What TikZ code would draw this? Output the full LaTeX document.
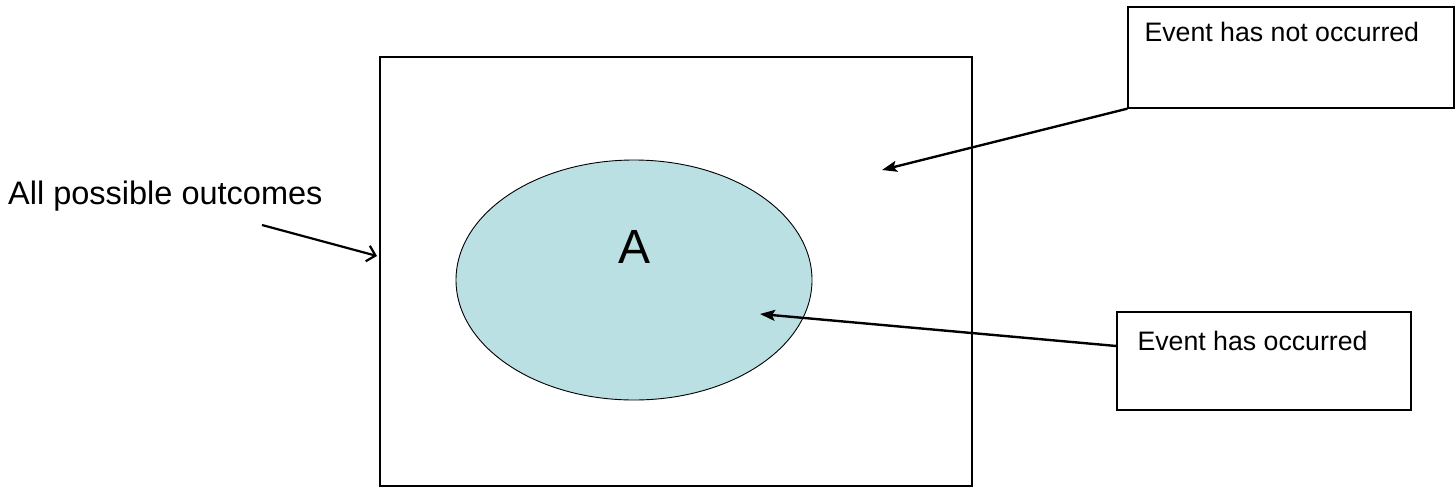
\documentclass[tikz,border=0pt]{standalone}
\usepackage{fontspec}
\setmainfont{Liberation Sans}
\usetikzlibrary{shapes.geometric,arrows.meta}
\definecolor{evfill}{RGB}{187,224,228}
\begin{document}
\begin{tikzpicture}[x=1pt,y=-1pt,
  frame/.style={draw=black,line width=1.4pt,minimum width=592pt,minimum height=429pt,inner sep=0pt},
  evt/.style={ellipse,draw=black,line width=0.9pt,fill=evfill,minimum width=356pt,minimum height=240pt,inner sep=0pt},
  callout/.style={draw=black,line width=1.3pt,inner sep=0pt},
  calltext/.style={font=\fontsize{26.7}{30}\selectfont,inner sep=0pt,anchor=north west},
  bigtext/.style={font=\fontsize{32.5}{38}\selectfont,inner sep=0pt},
  pointer/.style={line width=2.4pt,-{Stealth[length=15pt,width=11pt,inset=3pt]}},
  openpointer/.style={line width=2.2pt,-{Straight Barb[length=8pt,width=16pt]}}]
\useasboundingbox (0,0) rectangle (1456,488);
\node[frame] (sample) at (676,271.5) {};
\node[evt] (A) at (634,280) {};
\node[font=\fontsize{48}{54}\selectfont,inner sep=0pt] (Alabel) at (634,247) {A};
\node[callout,minimum width=326pt,minimum height=101pt,
  label={[calltext,xshift=17pt,yshift=-16pt]north west:Event has not occurred}] (notocc) at (1291,57.5) {};
\node[callout,minimum width=294pt,minimum height=98pt,
  label={[calltext,xshift=21pt,yshift=-20pt]north west:Event has occurred}] (occ) at (1264,361) {};
\node[bigtext,anchor=west] (allout) at (8,196) {All possible outcomes};
\coordinate (outpt) at (882,170);
\coordinate (inpt) at (760,314);
\coordinate (tail) at (262,225);
\coordinate (head) at (377,256);
\draw[pointer] (notocc.south west) -- (outpt);
\draw[pointer] ([yshift=15pt]occ.west) -- (inpt);
\draw[openpointer] (tail) -- (head);
\end{tikzpicture}
\end{document}
